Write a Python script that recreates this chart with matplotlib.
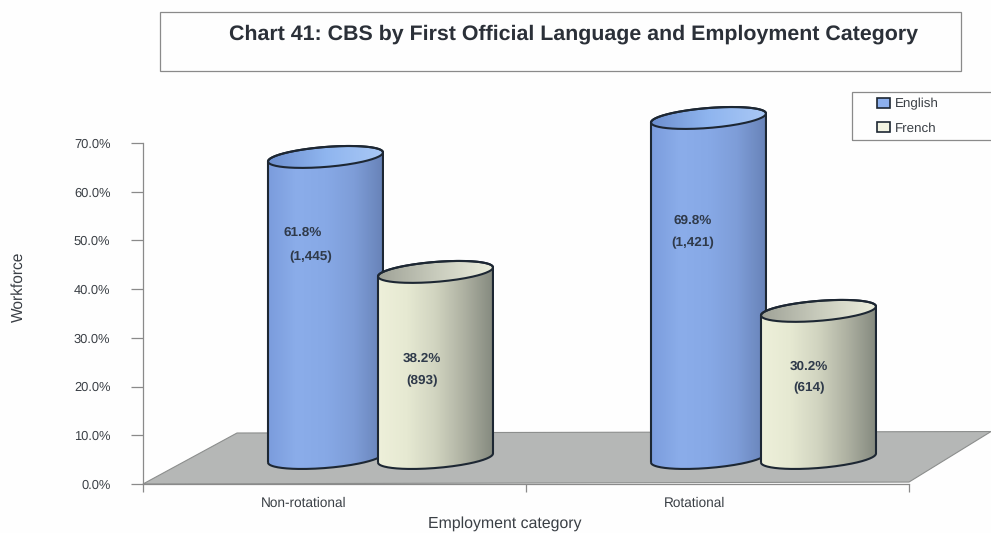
import numpy as np
import matplotlib
matplotlib.use("Agg")
import matplotlib.pyplot as plt
from matplotlib.colors import LinearSegmentedColormap
from matplotlib.patches import Rectangle, Polygon, PathPatch
from matplotlib.path import Path

categories = ["Non-rotational", "Rotational"]
english = [61.8, 69.8]
french = [38.2, 30.2]
english_counts = ["(1,445)", "(1,421)"]
french_counts = ["(893)", "(614)"]
y_ticks = [0, 10, 20, 30, 40, 50, 60, 70]

W, H = 991, 533
plt.rcParams["font.family"] = ["Liberation Sans", "DejaVu Sans"]
plt.rcParams["text.hinting"] = "no_hinting"
fig = plt.figure(figsize=(W / 100, H / 100), dpi=100, facecolor="#fefefe")
L, R, B, T = 143, 909, 484, 143
ax = fig.add_axes([L / W, 1 - B / H, (R - L) / W, (B - T) / H], facecolor="none")
px = 2 / (R - L)
py = 70 / (B - T)

GREY = "#8a8a8a"
TXT = "#3a3f45"
for s in ["top", "right"]:
    ax.spines[s].set_visible(False)
for s in ["left", "bottom"]:
    ax.spines[s].set_color(GREY)
    ax.spines[s].set_linewidth(0.9)
ax.set_yticks(y_ticks, [f"{v:.1f}%" for v in y_ticks], fontsize=9.3, color=TXT)
ax.set_xticks([0, 1, 2], [])
ax.set_xticks([0.42, 1.441], categories, minor=True, fontsize=9.8, color=TXT)
ax.tick_params(axis="y", length=9, color=GREY, width=0.9, pad=14.5)
ax.tick_params(axis="x", which="major", length=6, color=GREY, width=0.9)
ax.tick_params(axis="x", which="minor", length=0, pad=9)
ax.set_xlabel("Employment category", fontsize=11.4, color=TXT, labelpad=5,
              x=(505 - L) / (R - L))
fig.text(18.5 / W, 1 - 287 / H, "Workforce", rotation=90, fontsize=11.2, color=TXT,
         ha="center", va="center")

# floor
floor_depth = 51 * py
floor = Polygon([(0, 0), (94 * px, floor_depth), ((W - L) * px, floor_depth + 0.3),
                 (2, 0.4)], closed=True, facecolor="#b5b7b6", edgecolor="#8c8e8d",
                lw=0.8, zorder=1, clip_on=False)
ax.add_patch(floor)

base = 26 * py
half_w = 57.5 * px
semi_b = 10 * py
tilt = 4.5 * py
offsets = (-9 * px, 101 * px)

blue_cm = LinearSegmentedColormap.from_list("b", ["#7b9cdc", "#8badea", "#87a9e6", "#7e9dd8", "#6883b8"])
blue_top = LinearSegmentedColormap.from_list("bt", ["#6d8fcf", "#8fb5ef", "#a9c8f5"])
cream_cm = LinearSegmentedColormap.from_list("c", ["#eef0da", "#e6e9d2", "#d1d4c0", "#aeb1a2", "#858a7f"])
cream_top = LinearSegmentedColormap.from_list("ct", ["#9fa297", "#c8cbbc", "#eceedd"])
EDGE = "#1d2733"


def ell(cx, cy, t):
    return np.c_[cx + half_w * np.cos(t), cy + semi_b * np.sin(t) + tilt * np.cos(t)]


def gradient(cmap, x0, x1, y0, y1, clip, z):
    im = ax.imshow(np.linspace(0, 1, 256)[None, :], cmap=cmap, aspect="auto",
                   extent=(x0, x1, y0, y1), zorder=z, interpolation="bilinear")
    im.set_clip_path(clip)
    im.set_clip_box(fig.bbox)


def cylinder(cx, value, cmap, cmap_top, z):
    top = base + value
    t_low = np.linspace(np.pi, 2 * np.pi, 80)
    t_up = np.linspace(0, np.pi, 80)
    body = np.r_[ell(cx, base, t_low), ell(cx, top, t_up), ell(cx, base, t_low[:1])]
    ax.add_patch(PathPatch(Path(body), facecolor="none", edgecolor=EDGE, lw=1.5, zorder=z + 0.2,
                           clip_on=False))
    clip = PathPatch(Path(body), transform=ax.transData, visible=False)
    ax.add_patch(clip)
    gradient(cmap, cx - half_w, cx + half_w, base - 3, top + 3, clip, z)
    t_all = np.linspace(0, 2 * np.pi, 160)
    cap = ell(cx, top, t_all)
    ax.add_patch(PathPatch(Path(cap), facecolor="none", edgecolor=EDGE, lw=1.5, zorder=z + 0.3,
                           clip_on=False))
    clip2 = PathPatch(Path(cap), transform=ax.transData, visible=False)
    ax.add_patch(clip2)
    gradient(cmap_top, cx - half_w, cx + half_w, top - 3, top + 3, clip2, z + 0.1)


for i in range(2):
    c = i + 0.5
    cylinder(c + offsets[0], english[i], blue_cm, blue_top, 3)
    cylinder(c + offsets[1], french[i], cream_cm, cream_top, 4)

ax.set_xlim(0, 2)
ax.set_ylim(0, 70)

# value labels: pixel offset from each cylinder's axis, and height in the chart
label_style = dict(fontsize=9.7, fontweight="bold", color="#2f3a4a", ha="center", va="center", zorder=6)
eng_dx = [(-23, -15), (-16, -16)]
eng_y = [(233, 257), (221, 243)]
fr_dx = [(-14, -13), (-10, -9)]
fr_y = [(359, 381), (367, 388)]
for i in range(2):
    c = i + 0.5
    ax.text(c + offsets[0] + eng_dx[i][0] * px, (B - eng_y[i][0]) * py, f"{english[i]}%", **label_style)
    ax.text(c + offsets[0] + eng_dx[i][1] * px, (B - eng_y[i][1]) * py, english_counts[i], **label_style)
    ax.text(c + offsets[1] + fr_dx[i][0] * px, (B - fr_y[i][0]) * py, f"{french[i]}%", **label_style)
    ax.text(c + offsets[1] + fr_dx[i][1] * px, (B - fr_y[i][1]) * py, french_counts[i], **label_style)

# title box
fig.add_artist(Rectangle((160 / W, 1 - 71 / H), 801 / W, 59 / H, transform=fig.transFigure,
                         facecolor="none", edgecolor="#8a8a8a", lw=0.9))
fig.text(574 / W, 1 - 34.5 / H, "Chart 41: CBS by First Official Language and Employment Category",
         fontsize=15.4, fontweight="bold", color="#2b3038", ha="center", va="center")

# legend
fig.add_artist(Rectangle((852 / W, 1 - 140 / H), 145 / W, 48 / H, transform=fig.transFigure,
                         facecolor="none", edgecolor="#8a8a8a", lw=0.9))
handles = [Rectangle((0, 0), 1, 1, facecolor="#8db0ee", edgecolor=EDGE, lw=1.2),
           Rectangle((0, 0), 1, 1, facecolor="#f2f3e2", edgecolor=EDGE, lw=1.2)]
fig.legend(handles, ["English", "French"], loc="upper left",
           bbox_to_anchor=(877 / W, 1 - 98 / H), frameon=False, fontsize=9.6, labelcolor=TXT,
           borderpad=0, borderaxespad=0, handlelength=0.95, handleheight=0.75,
           handletextpad=0.38, labelspacing=0.88)

fig.savefig("out.png", dpi=100, facecolor=fig.get_facecolor())
